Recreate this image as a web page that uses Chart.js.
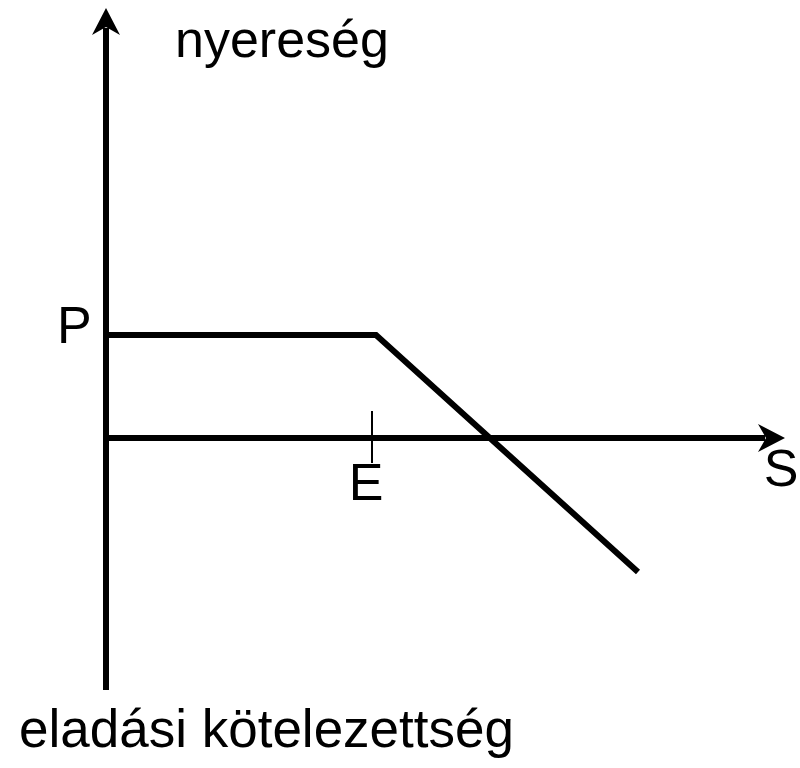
<!DOCTYPE html>
<html>
<head>
<meta charset="utf-8">
<script src="https://cdn.jsdelivr.net/npm/chart.js@4/dist/chart.umd.min.js"></script>
<style>
  html, body { margin: 0; padding: 0; background: #ffffff; }
  canvas { display: block; }
</style>
</head>
<body>
<canvas id="c" width="800" height="768"></canvas>
<script>
// Payoff of the put writer (eladási kötelezettség), arbitrary units
const payoffS      = [0, 270, 532];
const payoffProfit = [103, 103, -134];

// Axes extents (data units)
const xAxisS      = [0, 679];      // S axis, arrow at the end
const yAxisProfit = [-252, 430];   // profit axis, arrow at the top

// Strike marker
const strikeE     = 266;
const strikeTick  = [-25, 27];

// Labels
const labelTexts  = ['nyereség', 'eladási kötelezettség', 'P', 'E', 'S'];
const labelX      = [69, -87, -49, 260, 675];
const labelY      = [381, -309, 95, -62, -48];
const labelAlign  = ['left', 'left', 'left', 'center', 'center'];
const labelSize   = [52, 53, 52, 52, 52];

function arrowHead(ctx, tipX, tipY, dirX, dirY, len, half, notch) {
  const px = -dirY, py = dirX;
  const bx = tipX - dirX * len, by = tipY - dirY * len;
  const nx = tipX - dirX * (len - notch), ny = tipY - dirY * (len - notch);
  ctx.beginPath();
  ctx.moveTo(tipX, tipY);
  ctx.lineTo(bx + px * half, by + py * half);
  ctx.lineTo(nx, ny);
  ctx.lineTo(bx - px * half, by - py * half);
  ctx.closePath();
  ctx.fill();
}

const decor = {
  id: 'decor',
  afterDatasetsDraw(chart) {
    const ctx = chart.ctx;
    const xs = chart.scales.x, ys = chart.scales.y;
    ctx.save();
    ctx.fillStyle = '#000';
    arrowHead(ctx, xs.getPixelForValue(xAxisS[1]), ys.getPixelForValue(0), 1, 0, 27, 14, 8);
    arrowHead(ctx, xs.getPixelForValue(0), ys.getPixelForValue(yAxisProfit[1]), 0, -1, 27, 14, 8);
    ctx.textBaseline = 'alphabetic';
    for (let i = 0; i < labelTexts.length; i++) {
      ctx.font = labelSize[i] + 'px "Liberation Sans", Arial, sans-serif';
      ctx.textAlign = labelAlign[i];
      ctx.fillText(labelTexts[i], xs.getPixelForValue(labelX[i]), ys.getPixelForValue(labelY[i]));
    }
    ctx.restore();
  }
};

const pts = (xa, ya) => xa.map((v, i) => ({ x: v, y: ya[i] }));
const lineDs = (data, w) => ({ data, showLine: true, borderColor: '#000', borderWidth: w, pointRadius: 0, borderCapStyle: 'butt', borderJoinStyle: 'miter', tension: 0 });

new Chart(document.getElementById('c'), {
  type: 'scatter',
  data: {
    datasets: [
      lineDs(pts([xAxisS[0], xAxisS[1] - 20], [0, 0]), 6),
      lineDs(pts([0, 0], [yAxisProfit[0], yAxisProfit[1] - 20]), 6),
      lineDs(pts([strikeE, strikeE], strikeTick), 2),
      lineDs(pts(payoffS, payoffProfit), 6)
    ]
  },
  options: {
    responsive: false,
    animation: false,
    devicePixelRatio: 1,
    layout: { padding: 0 },
    plugins: { legend: { display: false }, tooltip: { enabled: false } },
    events: [],
    scales: {
      x: { type: 'linear', min: -106, max: 694, display: false },
      y: { type: 'linear', min: -330, max: 438, display: false }
    }
  },
  plugins: [decor]
});
</script>
</body>
</html>
